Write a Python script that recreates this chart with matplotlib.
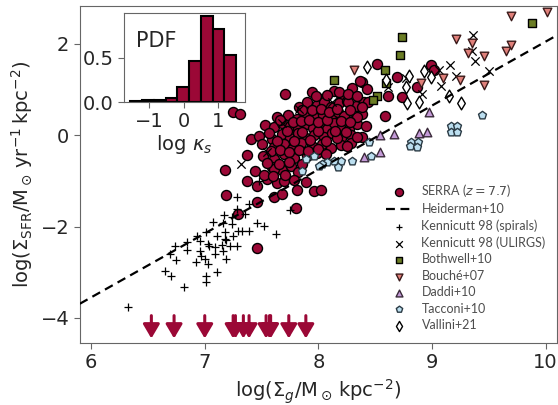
import matplotlib
matplotlib.use('Agg')
import matplotlib.pyplot as plt
import numpy as np

plt.rcParams['font.family'] = 'DejaVu Sans'
plt.rcParams['mathtext.fontset'] = 'dejavusans'

# --- data ---------------------------------------------------------------
serra_x = [7.94, 8.03, 8.14, 8.20, 8.30, 8.38,
           7.83, 7.90, 7.99, 8.05, 8.11, 8.18, 8.25, 8.33, 8.40,
           7.64, 7.73, 7.81, 7.88, 7.96, 8.04, 8.11, 8.17, 8.23, 8.32, 8.38,
           7.53, 7.61, 7.68, 7.75, 7.82, 7.89, 7.95, 8.03, 8.08, 8.14, 8.21, 8.27, 8.34, 8.42,
           7.41, 7.48, 7.59, 7.68, 7.75, 7.82, 7.89, 7.96, 8.05, 8.12, 8.20, 8.29, 8.38,
           7.50, 7.61, 7.70, 7.77, 7.85, 7.94, 8.03, 8.11, 8.20, 8.29,
           7.37, 7.51, 7.61, 7.70, 7.79, 7.90, 7.99,
           7.44, 7.59, 7.68, 7.76, 7.82, 7.18, 7.61,
           7.37, 7.46, 7.55, 7.64, 7.70, 7.79, 7.89,
           7.19, 7.46, 7.61, 7.68, 7.81, 7.96, 8.02,
           7.80, 7.29, 7.46,
           7.25, 7.31, 7.71, 8.52, 8.37, 8.43, 8.69, 8.61, 8.59, 8.44, 8.87, 8.99, 9.02,
           8.18, 8.26, 8.38, 8.34, 8.34, 8.25, 8.16, 8.74,
           7.57, 7.64, 7.72, 7.79, 7.86, 7.93, 8.00, 8.07, 8.15, 8.24,
           7.66, 7.78, 7.85, 7.92, 8.00, 8.08, 8.20, 8.28,
           7.58, 7.66, 7.74, 7.83, 7.91, 8.00, 8.07,
           7.86, 7.94, 8.02, 8.09, 8.16, 8.28,
           7.55, 7.65, 7.74, 7.86, 7.52, 7.71, 7.60,
           7.98, 8.08, 8.26, 8.34]
serra_y = [0.94, 0.80, 0.96, 0.88, 1.03, 1.16,
           0.62, 0.72, 0.66, 0.74, 0.63, 0.70, 0.76, 0.64, 0.72,
           0.40, 0.45, 0.36, 0.48, 0.40, 0.44, 0.38, 0.50, 0.42, 0.37, 0.47,
           0.22, 0.18, 0.26, 0.20, 0.14, 0.24, 0.17, 0.22, 0.13, 0.27, 0.19, 0.14, 0.24, 0.20,
           -0.09, -0.02, -0.08, 0.02, -0.05, 0.04, -0.07, 0.01, -0.04, 0.05, -0.06, 0.00, -0.03,
           -0.18, -0.26, -0.20, -0.29, -0.17, -0.24, -0.19, -0.28, -0.22, -0.16,
           -0.44, -0.46, -0.52, -0.41, -0.50, -0.45, -0.38,
           -0.79, -0.70, -0.77, -0.68, -0.80, -0.77, -0.74,
           -1.01, -1.10, -0.96, -1.05, -1.01, -0.98, -1.03,
           -1.31, -1.46, -1.36, -1.29, -1.20, -1.22, -1.20,
           -1.60, -1.73, -2.47,
           0.52, 0.46, 0.90, 1.57, 1.18, 1.01, 1.27, 0.85, 0.42, 0.72, 1.05, 1.53, 1.44,
           0.94, 0.74, 0.61, 0.39, -0.04, -0.24, -0.07, 0.83,
           0.05, -0.12, 0.10, -0.13, 0.08, -0.10, 0.10, -0.12, 0.10, 0.08,
           0.33, 0.30, 0.32, 0.34, 0.30, 0.34, 0.32, 0.30,
           -0.35, -0.32, -0.36, -0.33, -0.35, -0.31, -0.40,
           0.56, 0.55, 0.57, 0.52, 0.58, 0.55,
           -0.60, -0.62, -0.58, -0.62, -0.86, -0.88, -0.90,
           0.85, 0.88, 0.90, 0.85]

# SERRA upper limits on Sigma_SFR
serra_ul_x = [6.53, 6.73, 7.00, 7.25, 7.27, 7.34, 7.39, 7.54, 7.57, 7.58, 7.74, 7.89]
serra_ul_y = -3.95

heiderman_x = [5.9, 10.1]
heiderman_y = [-3.69, 2.19]

ks_spiral_x = [6.32, 6.82, 7.01, 7.01, 6.65, 6.70, 6.74, 6.69, 6.75, 6.84, 6.84, 6.96,
               6.92, 6.97, 7.00, 7.03, 7.09, 7.11, 7.07, 7.01, 7.11, 7.17, 7.16, 7.18,
               7.18, 7.16, 7.19, 7.04, 6.96, 7.09, 7.24, 7.29, 7.33, 7.39, 7.46, 7.52,
               7.63, 7.25, 7.19, 7.15, 7.03, 6.93, 7.22, 7.28, 7.75, 7.48, 7.28, 7.35,
               7.39, 7.28, 7.24]
ks_spiral_y = [-3.76, -3.32, -3.21, -3.08, -2.97, -3.08, -2.43, -2.60, -2.73, -2.34, -2.51, -2.54,
               -2.78, -2.64, -2.71, -2.82, -2.60, -2.99, -1.90, -2.12, -2.21, -1.75, -1.92, -2.12,
               -2.27, -2.54, -2.71, -2.43, -2.32, -2.45, -1.95, -2.10, -2.10, -2.10, -1.92, -1.99,
               -2.16, -2.21, -2.30, -2.40, -2.38, -2.21, -2.43, -2.43, -1.64, -1.01, -1.36, -1.73,
               -1.51, -1.62, -1.79]

ks_ulirg_x = [9.36, 9.35, 9.38, 9.16, 9.06, 9.21, 9.50, 9.08, 8.91, 8.77, 8.61, 8.12,
              7.32, 7.68, 7.55, 7.83]
ks_ulirg_y = [2.19, 1.84, 1.62, 1.53, 1.44, 1.29, 1.40, 1.09, 0.90, 1.25, 1.05, 0.74,
              -0.63, 0.28, -0.37, 0.57]

bothwell_x = [8.74, 8.72, 8.59, 8.14, 8.60, 8.52, 8.48, 9.88]
bothwell_y = [2.16, 1.75, 1.44, 1.20, 1.14, 0.85, 0.77, 2.45]

bouche_x = [9.70, 10.01, 9.21, 9.35, 9.32, 9.46, 9.65, 9.70, 9.10, 9.25, 9.46, 8.90, 8.31]
bouche_y = [2.62, 2.69, 2.10, 2.03, 1.81, 1.73, 1.84, 1.97, 1.25, 1.20, 1.11, 1.14, 1.42]

daddi_x = [8.97, 8.54, 8.67, 8.89, 8.96, 8.54, 8.40]
daddi_y = [0.50, 0.00, 0.02, 0.04, 0.07, -0.37, -0.48]

tacconi_x = [9.44, 9.17, 9.22, 9.17, 9.22, 8.82, 8.88, 8.81, 8.87, 8.45, 8.46, 8.30,
             8.20, 8.14, 8.08, 8.03, 7.89, 7.86, 8.01, 8.17, 7.96]
tacconi_y = [0.44, 0.20, 0.20, 0.07, 0.07, -0.15, -0.15, -0.24, -0.26, -0.15, -0.46, -0.57,
             -0.57, -0.57, -0.59, -0.63, -0.52, -0.79, -0.68, -0.70, -0.46]

vallini_x = [8.43, 8.60, 8.80, 8.77, 8.93, 8.99, 8.89, 8.78, 9.15, 9.26]
vallini_y = [1.49, 1.22, 1.29, 1.05, 1.40, 1.27, 0.74, 0.70, 0.85, 0.70]

# kappa_s distribution (inset)
kappa_edges = [-1.55, -1.21, -0.87, -0.53, -0.19, 0.15, 0.49, 0.83, 1.17, 1.51]
kappa_pdf = [0.008, 0.026, 0.026, 0.045, 0.17, 0.47, 0.97, 0.83, 0.53]

# --- plot ---------------------------------------------------------------
red = '#9b0836'
grey = '0.4'
plt.rcParams['axes.edgecolor'] = grey
plt.rcParams['xtick.color'] = grey
plt.rcParams['ytick.color'] = grey
plt.rcParams['xtick.labelcolor'] = '0.15'
plt.rcParams['ytick.labelcolor'] = '0.15'

fig = plt.figure(figsize=(5.58, 4.05), dpi=100)
ax = fig.add_axes([0.143, 0.153, 0.855, 0.832])

ax.scatter(serra_x, serra_y, s=52, c=red, edgecolors='k', linewidths=1,
           zorder=2, label=r'SERRA ($z=7.7$)')
ax.plot(heiderman_x, heiderman_y, ls='--', c='k', lw=1.6, dashes=(4, 2.5),
        zorder=4, label='Heiderman+10')
ax.scatter(ks_spiral_x, ks_spiral_y, s=36, marker='+', c='k', linewidths=0.9,
           zorder=3, label='Kennicutt 98 (spirals)')
ax.scatter(ks_ulirg_x, ks_ulirg_y, s=36, marker='x', c='k', linewidths=0.9,
           zorder=3, label='Kennicutt 98 (ULIRGS)')
ax.scatter(bothwell_x, bothwell_y, s=36, marker='s', c='#6b7d25', edgecolors='k',
           linewidths=1, zorder=3, label='Bothwell+10')
ax.scatter(bouche_x, bouche_y, s=38, marker='v', c='#e0807a', edgecolors='#3a1a1a',
           linewidths=1, zorder=3, label='Bouché+07')
ax.scatter(daddi_x, daddi_y, s=38, marker='^', c='#c49ad8', edgecolors='#3a2a3a',
           linewidths=1, zorder=3, label='Daddi+10')
ax.scatter(tacconi_x, tacconi_y, s=36, marker='p', c='#bcdff0', edgecolors='#2a3a44',
           linewidths=1, zorder=3, label='Tacconi+10')
ax.scatter(vallini_x, vallini_y, s=42, marker='d', c='white', edgecolors='k',
           linewidths=1, zorder=3, label='Vallini+21')

for xu in serra_ul_x:
    ax.annotate('', xy=(xu, serra_ul_y - 0.5), xytext=(xu, serra_ul_y),
                arrowprops=dict(arrowstyle='-|>,head_length=0.85,head_width=0.5',
                                color=red, lw=2.2, mutation_scale=10,
                                shrinkA=0, shrinkB=0), zorder=3)

ax.set_xlim(5.9, 10.1)
ax.set_ylim(-4.55, 2.83)
ax.set_xticks([6, 7, 8, 9, 10])
ax.set_yticks([-4, -2, 0, 2])
ax.tick_params(labelsize=14, length=4, direction='out')
ax.set_xlabel(r'$\log(\Sigma_g/{\rm M}_\odot\,{\rm kpc}^{-2})$', fontsize=14, color='0.15')
ax.set_ylabel(r'$\log(\Sigma_{\rm SFR}/{\rm M}_\odot\,{\rm yr}^{-1}\,{\rm kpc}^{-2})$',
              fontsize=14, color='0.15')

leg = ax.legend(loc='lower right', frameon=False, prop={'family': 'Lato', 'size': 9},
                labelcolor='0.3', labelspacing=0.35, handletextpad=0.8,
                markerscale=0.8, borderaxespad=0.3, bbox_to_anchor=(0.995, 0.01))

# inset: kappa_s pdf
axin = fig.add_axes([0.222, 0.748, 0.217, 0.22])
axin.bar(kappa_edges[:-1], kappa_pdf, width=np.diff(kappa_edges), align='edge',
         color=red, edgecolor='k', linewidth=1.5)
axin.set_xlim(-1.74, 1.77)
axin.set_ylim(0, 1.01)
axin.set_xticks([-1, 0, 1])
axin.set_yticks([0.0, 0.5])
axin.tick_params(labelsize=14, length=4, direction='out')
axin.set_xlabel(r'$\log\,\kappa_s$', fontsize=14, color='0.15', labelpad=1)
axin.text(0.1, 0.62, 'PDF', transform=axin.transAxes, fontsize=15, color='0.15')

fig.savefig('out.png', dpi=100)
